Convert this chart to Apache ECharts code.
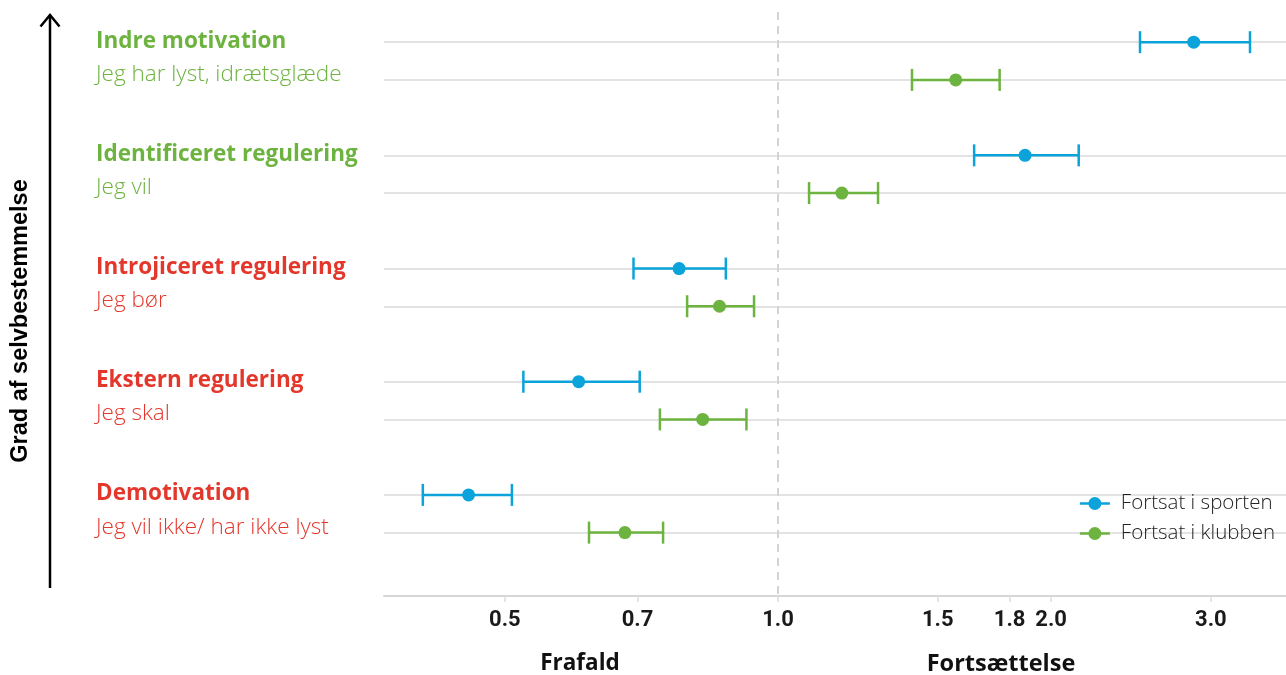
<!DOCTYPE html>
<html>
<head>
<meta charset="utf-8">
<script src="https://cdn.jsdelivr.net/npm/echarts@6/dist/echarts.min.js"></script>
<style>
html,body{margin:0;padding:0;background:#fff;}
#chart{width:1286px;height:675px;}
</style>
</head>
<body>
<div id="chart"></div>
<script>
// ---- data ----
const rowTitles = ['Indre motivation', 'Identificeret regulering', 'Introjiceret regulering', 'Ekstern regulering', 'Demotivation'];
const rowSubtitles = ['Jeg har lyst, idrætsglæde', 'Jeg vil', 'Jeg bør', 'Jeg skal', 'Jeg vil ikke/ har ikke lyst'];
const rowKind = ['auto', 'auto', 'ctrl', 'ctrl', 'ctrl'];
const seriesNames = ['Fortsat i sporten', 'Fortsat i klubben'];
const sportEst  = [2.872, 1.872, 0.778, 0.603, 0.456];
const sportLow  = [2.506, 1.645, 0.693, 0.524, 0.406];
const sportHigh = [3.313, 2.145, 0.876, 0.704, 0.509];
const clubEst   = [1.570, 1.176, 0.862, 0.826, 0.678];
const clubLow   = [1.405, 1.082, 0.794, 0.741, 0.619];
const clubHigh  = [1.755, 1.289, 0.941, 0.923, 0.747];
const xTicks = [0.5, 0.7, 1.0, 1.5, 1.8, 2.0, 3.0];
const xNames = ['Frafald', 'Fortsættelse'];
const yName = 'Grad af selvbestemmelse';

// ---- build ----
const BLUE = '#0ba3d9', GREEN = '#6cb33f', RED = '#e4372c';
const rowPos = [];
rowTitles.forEach((t, i) => { rowPos.push(3 * i, 3 * i + 1); });

function errData(low, high, off) { return low.map((l, i) => [l, high[i], 3 * i + off]); }
function ptData(est, off) { return est.map((v, i) => [v, 3 * i + off]); }

function errRender(color) {
  return function (params, api) {
    const y = api.value(2);
    const p1 = api.coord([api.value(0), y]);
    const p2 = api.coord([api.value(1), y]);
    const h = 11;
    const st = { stroke: color, lineWidth: 2.5 };
    return {
      type: 'group',
      children: [
        { type: 'line', shape: { x1: p1[0], y1: p1[1], x2: p2[0], y2: p2[1] }, style: st },
        { type: 'line', shape: { x1: p1[0], y1: p1[1] - h, x2: p1[0], y2: p1[1] + h }, style: st },
        { type: 'line', shape: { x1: p2[0], y1: p2[1] - h, x2: p2[0], y2: p2[1] + h }, style: st }
      ]
    };
  };
}

const legendIcon = 'path://M0,4.9 L9,4.9 L9,7.6 L0,7.6 Z M21,4.9 L30,4.9 L30,7.6 L21,7.6 Z M8.5,6.25 A6.5,6.5 0 1,1 21.5,6.25 A6.5,6.5 0 1,1 8.5,6.25 Z';

const chart = echarts.init(document.getElementById('chart'), null, { renderer: 'canvas' });
const FONT = '"Open Sans", Roboto, "Noto Sans", sans-serif';

const option = {
  backgroundColor: '#ffffff',
  animation: false,
  grid: { left: 384, right: 0, top: 12, bottom: 79, containLabel: false },
  legend: {
    orient: 'vertical', right: 6, top: 488, align: 'left',
    itemWidth: 30, itemHeight: 13, itemGap: 9,
    textStyle: { fontFamily: FONT, fontSize: 20.5, fontWeight: 300, color: '#222', padding: [0, 0, 0, 6] },
    data: [
      { name: seriesNames[0], icon: legendIcon, itemStyle: { color: BLUE } },
      { name: seriesNames[1], icon: legendIcon, itemStyle: { color: GREEN } }
    ]
  },
  xAxis: {
    type: 'log', logBase: 10, min: 0.3679, max: 3.63, position: 'bottom',
    axisLine: { show: true, onZero: false, lineStyle: { color: '#d6d6d6', width: 2 } },
    axisTick: { show: true, customValues: xTicks, length: 6, lineStyle: { color: '#dcdcdc', width: 1.5 } },
    axisLabel: {
      customValues: xTicks, margin: 13,
      formatter: v => Number(v).toFixed(1),
      fontFamily: 'Roboto, sans-serif', fontSize: 22, fontWeight: 'bold', color: '#1a1a1a'
    },
    splitLine: { show: false }
  },
  yAxis: {
    type: 'value', inverse: true, min: -0.8, max: 14.68,
    axisLine: { show: false },
    axisTick: { show: false, customValues: rowPos },
    splitLine: { show: true, lineStyle: { color: '#dadada', width: 1.5 } },
    axisLabel: {
      customValues: rowPos, align: 'left', margin: 288,
      formatter: function (v) {
        const i = Math.floor(v / 3);
        const k = rowKind[i] === 'auto' ? 'g' : 'r';
        if (v % 3 === 0) return '{t' + k + '|' + rowTitles[i] + '}';
        return '{s' + k + '|' + rowSubtitles[i] + '}';
      },
      rich: {
        tg: { fontFamily: FONT, fontSize: 22.5, fontWeight: 'bold', color: GREEN, padding: [0, 0, 2, 0] },
        tr: { fontFamily: FONT, fontSize: 22.5, fontWeight: 'bold', color: RED, padding: [0, 0, 2, 0] },
        sg: { fontFamily: FONT, fontSize: 22.5, fontWeight: 300, color: GREEN, padding: [0, 0, 11, 0] },
        sr: { fontFamily: FONT, fontSize: 22.5, fontWeight: 300, color: RED, padding: [0, 0, 11, 0] }
      }
    }
  },
  series: [
    {
      type: 'custom', name: seriesNames[0], renderItem: errRender(BLUE),
      data: errData(sportLow, sportHigh, 0), encode: { x: [0, 1], y: 2 }, z: 3,
      markLine: {
        silent: true, symbol: 'none', label: { show: false },
        lineStyle: { color: '#d4d4d4', width: 2, type: [8, 6] },
        data: [{ xAxis: 1.0 }]
      }
    },
    {
      type: 'custom', name: seriesNames[1], renderItem: errRender(GREEN),
      data: errData(clubLow, clubHigh, 1), encode: { x: [0, 1], y: 2 }, z: 3
    },
    {
      type: 'scatter', name: seriesNames[0], data: ptData(sportEst, 0),
      symbol: 'circle', symbolSize: 13, itemStyle: { color: BLUE, opacity: 1 }, z: 4
    },
    {
      type: 'scatter', name: seriesNames[1], data: ptData(clubEst, 1),
      symbol: 'circle', symbolSize: 13, itemStyle: { color: GREEN, opacity: 1 }, z: 4
    }
  ],
  graphic: [
    { type: 'line', shape: { x1: 50, y1: 588, x2: 50, y2: 15 }, style: { stroke: '#000', lineWidth: 2.5 } },
    { type: 'polyline', shape: { points: [[40.5, 26.5], [50, 15], [59.5, 26.5]] }, style: { stroke: '#000', lineWidth: 2.5, fill: null } },
    {
      type: 'text', x: 21, y: 321, rotation: Math.PI / 2,
      style: { text: yName, fontFamily: '"Liberation Sans", Arial, sans-serif', fontSize: 23.5, fontWeight: 'bold', fill: '#000', align: 'center', verticalAlign: 'middle' }
    },
    {
      type: 'text', x: 580, y: 664,
      style: { text: xNames[0], fontFamily: FONT, fontSize: 22.5, fontWeight: 'bold', fill: '#111', align: 'center', verticalAlign: 'middle' }
    },
    {
      type: 'text', x: 1001, y: 664,
      style: { text: xNames[1], fontFamily: FONT, fontSize: 23.5, fontWeight: 'bold', fill: '#111', align: 'center', verticalAlign: 'middle' }
    }
  ]
};
chart.setOption(option);
</script>
</body>
</html>
